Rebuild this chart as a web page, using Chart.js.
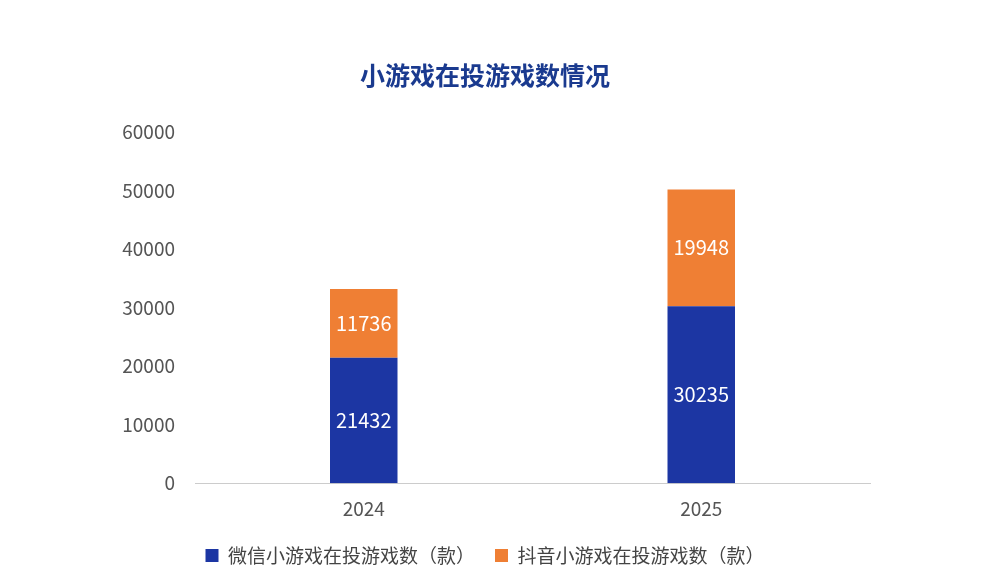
<!DOCTYPE html>
<html><head><meta charset="utf-8">
<script src="https://cdn.jsdelivr.net/npm/chart.js@4"></script>
<style>html,body{margin:0;background:#fff}#w{width:1000px;height:585px;position:relative}</style>
</head><body><div id="w"><canvas id="c"></canvas></div>
<script>
const categories = ['2024', '2025'];
const wechatValues = [21432, 30235];
const douyinValues = [11736, 19948];
const seriesNames = ['微信小游戏在投游戏数（款）', '抖音小游戏在投游戏数（款）'];
const titleText = '小游戏在投游戏数情况';

const FONT = '"Noto Sans CJK SC","Noto Sans",sans-serif';
const labelPlugin = {
  id: 'labels',
  afterDatasetsDraw(chart) {
    const ctx = chart.ctx;
    ctx.save();
    ctx.font = '20px ' + FONT;
    ctx.fillStyle = '#fff';
    ctx.textAlign = 'center';
    ctx.textBaseline = 'middle';
    chart.data.datasets.forEach((ds, i) => {
      chart.getDatasetMeta(i).data.forEach((bar, j) => {
        const y = (bar.y + bar.base) / 2;
        ctx.fillText(String(ds.data[j]), bar.x, y);
      });
    });
    ctx.restore();
  }
};
new Chart(document.getElementById('c'), {
  type: 'bar',
  data: {
    labels: categories,
    datasets: [
      { label: seriesNames[0], data: wechatValues, backgroundColor: '#1c36a3' },
      { label: seriesNames[1], data: douyinValues, backgroundColor: '#ef7f34' }
    ]
  },
  options: {
    responsive: true, maintainAspectRatio: false, animation: false,
    layout: { padding: { left: 100, right: 130, top: 60, bottom: 10 } },
    datasets: { bar: { barPercentage: 0.2, categoryPercentage: 1 } },
    plugins: {
      title: { display: true, text: titleText, color: '#1a3a8f', font: { family: FONT, size: 25, weight: 'bold' }, padding: { top: 0, bottom: 42 } },
      legend: { position: 'bottom', labels: { boxWidth: 13, boxHeight: 13, color: '#444', font: { family: FONT, size: 19 }, padding: 20 } },
      tooltip: { enabled: false }
    },
    scales: {
      x: { stacked: true, grid: { display: false }, border: { color: '#ccc' },
           ticks: { color: '#555', font: { family: FONT, size: 19 }, padding: 6 } },
      y: { stacked: true, min: 0, max: 60000, grid: { display: false }, border: { display: false },
           ticks: { stepSize: 10000, color: '#555', font: { family: FONT, size: 19 }, padding: 12, callback: v => String(v) },
           afterFit(s) { s.width = 95; } }
    }
  },
  plugins: [labelPlugin]
});
</script></body></html>
